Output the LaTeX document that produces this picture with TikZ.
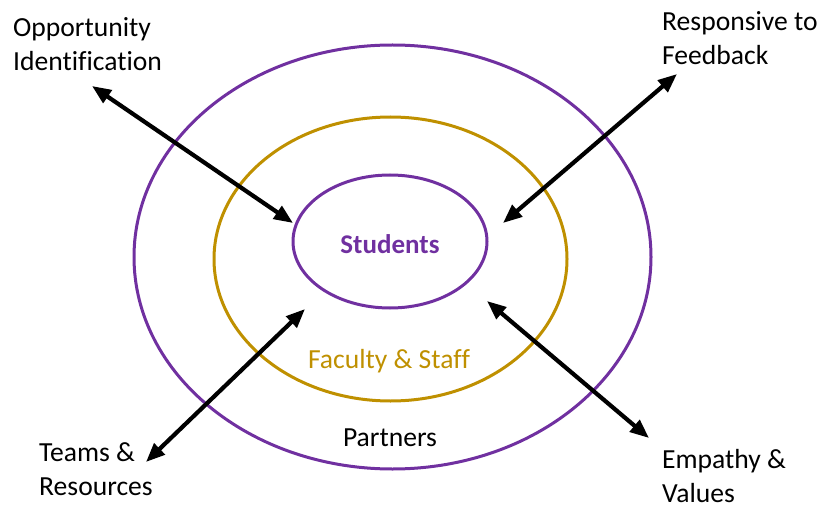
\documentclass[tikz,border=0pt]{standalone}
\usepackage{fontspec}
\setmainfont{Carlito}[Ligatures=NoCommon]
\usetikzlibrary{shapes.geometric,arrows.meta}
\definecolor{lvpurple}{HTML}{7030A0}
\definecolor{lvgold}{HTML}{BF9000}
\begin{document}
\begin{tikzpicture}[x=1pt,y=-1pt,
  ring/.style={ellipse,draw,line width=3pt,inner sep=0pt},
  lbl/.style={inner sep=0pt,font=\fontsize{27.6}{34}\selectfont},
  side/.style={lbl,align=left,anchor=base west},
  link/.style={line width=4.2pt,{Triangle[length=19pt,width=15pt]}-{Triangle[length=19pt,width=15pt]}}]
\useasboundingbox (0,0) rectangle (822,508);
\node[ring,draw=lvpurple,minimum width=517pt,minimum height=424pt] (outer) at (392.5,257) {};
\node[ring,draw=lvgold,minimum width=353pt,minimum height=284pt] (mid) at (390.5,259) {};
\node[ring,draw=lvpurple,minimum width=194pt,minimum height=133pt] (inner) at (390,241.5) {};
\node[lbl,anchor=base,text=lvpurple,font=\fontsize{27}{32}\selectfont\bfseries] (stud) at (390,253) {Students};
\node[lbl,anchor=base,text=lvgold] (fac) at (389,368) {Faculty \& Staff};
\node[lbl,anchor=base] (part) at (390,446) {Partners};
\node[side] (opp) at (13,71) {Opportunity\\Identification};
\node[side] (resp) at (662,65) {Responsive to\\Feedback};
\node[side] (team) at (39,495) {Teams \&\\Resources};
\node[side] (emp) at (662,502) {Empathy \&\\Values};
\coordinate (a1o) at (92,86);   \coordinate (a1i) at (293,223);
\coordinate (a2o) at (677,74);  \coordinate (a2i) at (503,223);
\coordinate (a3o) at (146,462); \coordinate (a3i) at (305,309);
\coordinate (a4o) at (649,438); \coordinate (a4i) at (487,301);
\draw[link] (a1o) -- (a1i);
\draw[link] (a2o) -- (a2i);
\draw[link] (a3o) -- (a3i);
\draw[link] (a4o) -- (a4i);
\end{tikzpicture}
\end{document}
